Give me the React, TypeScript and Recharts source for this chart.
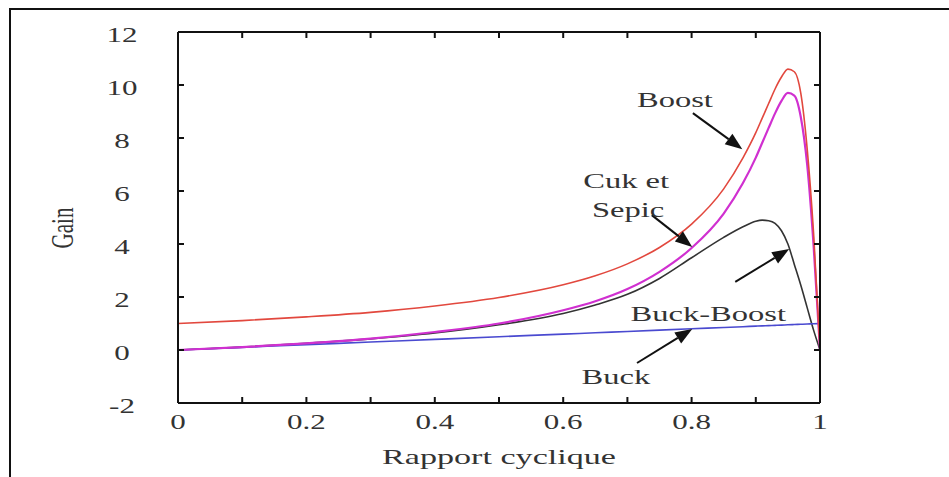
import React from 'react';
import { LineChart, Line, XAxis, YAxis, ReferenceLine, ReferenceDot } from 'recharts';

const D = [0, 0.1, 0.2, 0.3, 0.4, 0.5, 0.6, 0.65, 0.7, 0.75, 0.8, 0.85, 0.88, 0.9, 0.91, 0.92, 0.93, 0.94, 0.95, 0.96, 0.97, 0.98, 0.99, 1.0];
const boost = [1.0, 1.11, 1.25, 1.42, 1.66, 1.98, 2.46, 2.8, 3.25, 3.87, 4.75, 6.08, 7.25, 8.2, 8.75, 9.3, 9.85, 10.3, 10.6, 10.5, 9.7, 7.6, 4.4, 0];
const cuk = [0, 0.11, 0.25, 0.43, 0.68, 1.0, 1.5, 1.84, 2.3, 2.95, 3.85, 5.15, 6.3, 7.26, 7.82, 8.38, 8.93, 9.4, 9.7, 9.6, 8.8, 7.0, 3.95, 0];
const buckBoost = [0, 0.11, 0.25, 0.42, 0.64, 0.95, 1.38, 1.7, 2.1, 2.7, 3.48, 4.25, 4.65, 4.86, 4.9, 4.88, 4.78, 4.5, 4.0, 3.23, 2.45, 1.6, 0.75, 0];
const buck = [0, 0.1, 0.2, 0.3, 0.4, 0.5, 0.6, 0.65, 0.7, 0.75, 0.8, 0.85, 0.88, 0.9, 0.91, 0.92, 0.93, 0.94, 0.95, 0.96, 0.97, 0.98, 0.99, 1.0];

const xTicks = [0, 0.1, 0.2, 0.3, 0.4, 0.5, 0.6, 0.7, 0.8, 0.9, 1];
const xLabelTicks = [0, 0.2, 0.4, 0.6, 0.8, 1];
const yTicks = [-2, 0, 2, 4, 6, 8, 10, 12];

const annotations = [
  { text: 'Boost', d: 0.774, g: 9.17 },
  { text: 'Cuk et', d: 0.698, g: 6.11 },
  { text: 'Sepic', d: 0.701, g: 5.02 },
  { text: 'Buck-Boost', d: 0.826, g: 1.09 },
  { text: 'Buck', d: 0.682, g: -1.28 },
];

const arrows = [
  { d1: 0.802, g1: 8.94, d2: 0.879, g2: 7.58 },
  { d1: 0.738, g1: 5.09, d2: 0.801, g2: 3.89 },
  { d1: 0.868, g1: 2.57, d2: 0.952, g2: 3.81 },
  { d1: 0.715, g1: -0.49, d2: 0.801, g2: 0.79 },
];

const data = D.map((d, i) => ({ d, boost: boost[i], cuk: cuk[i], bb: buckBoost[i], buck: buck[i] }));

const FONT = '"Liberation Serif", "Times New Roman", serif';
const SX = 1.55;
const TXT = '#333333';

function ST({ x, y, size, anchor = 'middle', rotate = false, children }: any) {
  return (
    <text
      transform={`translate(${x},${y}) scale(${SX},1)${rotate ? ' rotate(-90)' : ''}`}
      x={0}
      y={0}
      textAnchor={anchor}
      fontFamily={FONT}
      fontSize={size}
      fill={TXT}
    >
      {children}
    </text>
  );
}

const XTick = (props: any) => {
  const { x, y, payload } = props;
  const v = payload.value;
  const show = xLabelTicks.some((t) => Math.abs(t - v) < 1e-6);
  if (!show) return <g />;
  return <ST x={x} y={y} size={20}>{String(+v.toFixed(1))}</ST>;
};

const YTick = (props: any) => {
  const { x, y, payload } = props;
  return <ST x={x} y={y + 10} size={20}>{String(payload.value)}</ST>;
};

const EmptyTick = () => <g />;

const ArrowShape = (props: any) => {
  const { x1, y1, x2, y2 } = props;
  if ([x1, y1, x2, y2].some((v) => typeof v !== 'number' || isNaN(v))) return <g />;
  const ang = Math.atan2(y2 - y1, x2 - x1);
  const L = 17;
  const W = 6.5;
  const bx = x2 - L * Math.cos(ang);
  const by = y2 - L * Math.sin(ang);
  const px = -Math.sin(ang) * W;
  const py = Math.cos(ang) * W;
  return (
    <g>
      <line x1={x1} y1={y1} x2={bx} y2={by} stroke="#111" strokeWidth={2} />
      <polygon points={`${x2},${y2} ${bx + px},${by + py} ${bx - px},${by - py}`} fill="#111" />
    </g>
  );
};

export default function App() {
  return (
    <div style={{ position: 'absolute', left: 0, top: 0, width: 949, height: 477, background: '#fff', overflow: 'hidden' }}>
      <div style={{ position: 'absolute', left: 9, top: 8, width: 960, height: 500, borderTop: '2.5px solid #111', borderLeft: '2.5px solid #111' }} />
      <div style={{ position: 'absolute', left: 0, top: 0 }}>
        <LineChart width={949} height={477} data={data} margin={{ top: 31, right: 128, bottom: 0, left: 0 }}>
          <XAxis
            dataKey="d"
            type="number"
            domain={[0, 1]}
            allowDataOverflow
            ticks={xTicks}
            interval={0}
            tickSize={-6}
            tickMargin={32}
            height={74}
            axisLine={{ stroke: '#111', strokeWidth: 2 }}
            tickLine={{ stroke: '#111', strokeWidth: 2 }}
            tick={<XTick />}
            label={{
              content: (p: any) => {
                const vb = p.viewBox || {};
                return <ST x={vb.x + vb.width / 2} y={464} size={22}>Rapport cyclique</ST>;
              },
            }}
          />
          <XAxis
            xAxisId="top"
            orientation="top"
            dataKey="d"
            type="number"
            domain={[0, 1]}
            allowDataOverflow
            ticks={xTicks}
            interval={0}
            tickSize={-6}
            height={1}
            axisLine={{ stroke: '#111', strokeWidth: 2 }}
            tickLine={{ stroke: '#111', strokeWidth: 2 }}
            tick={<EmptyTick />}
          />
          <YAxis
            type="number"
            domain={[-2, 12]}
            allowDataOverflow
            ticks={yTicks}
            interval={0}
            tickSize={-6}
            tickMargin={62}
            width={178}
            axisLine={{ stroke: '#111', strokeWidth: 2 }}
            tickLine={{ stroke: '#111', strokeWidth: 2 }}
            tick={<YTick />}
            label={{
              content: () => <ST x={73} y={228} size={21} rotate>Gain</ST>,
            }}
          />
          <YAxis
            yAxisId="right"
            orientation="right"
            type="number"
            domain={[-2, 12]}
            allowDataOverflow
            ticks={yTicks}
            interval={0}
            tickSize={-6}
            width={1}
            axisLine={{ stroke: '#111', strokeWidth: 2 }}
            tickLine={{ stroke: '#111', strokeWidth: 2 }}
            tick={<EmptyTick />}
          />
          <Line type="monotone" dataKey="bb" stroke="#333333" strokeWidth={1.6} dot={false} isAnimationActive={false} />
          <Line type="monotone" dataKey="buck" stroke="#4a4ad0" strokeWidth={1.6} dot={false} isAnimationActive={false} />
          <Line type="monotone" dataKey="cuk" stroke="#d030d0" strokeWidth={2.2} dot={false} isAnimationActive={false} />
          <Line type="monotone" dataKey="boost" stroke="#e2483e" strokeWidth={1.6} dot={false} isAnimationActive={false} />
          {arrows.map((a, i) => (
            <ReferenceLine
              key={'a' + i}
              segment={[{ x: a.d1, y: a.g1 }, { x: a.d2, y: a.g2 }]}
              shape={ArrowShape}
              ifOverflow="visible"
            />
          ))}
          {annotations.map((a, i) => (
            <ReferenceDot
              key={'t' + i}
              x={a.d}
              y={a.g}
              r={0}
              ifOverflow="visible"
              shape={(p: any) => <ST x={p.cx} y={p.cy} size={21}>{a.text}</ST>}
            />
          ))}
        </LineChart>
      </div>
    </div>
  );
}
